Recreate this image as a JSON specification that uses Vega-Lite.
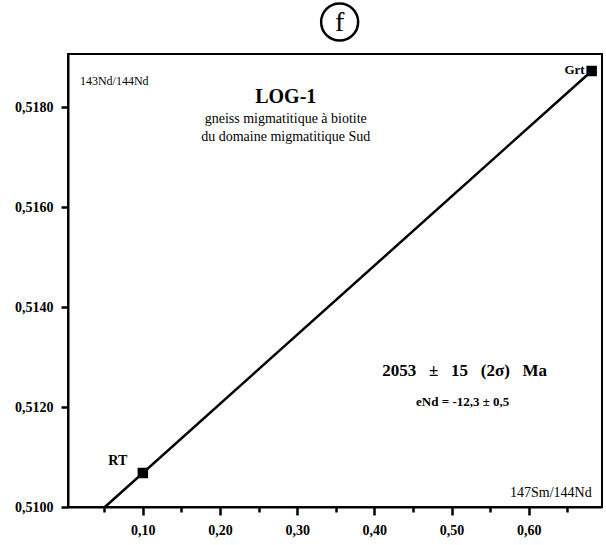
{
  "$schema": "https://vega.github.io/schema/vega-lite/v6.json",
  "width": 534,
  "height": 453,
  "autosize": {"type": "none"},
  "padding": {"left": 68, "top": 54, "right": 4, "bottom": 38},
  "background": "white",
  "config": {
    "view": {"stroke": "black", "strokeWidth": 2},
    "font": "Liberation Serif"
  },
  "encoding": {
    "x": {
      "field": "x", "type": "quantitative",
      "scale": {"domain": [0.003, 0.695], "nice": false, "zero": false},
      "axis": {
        "title": null, "grid": false,
        "values": [0.05, 0.1, 0.15, 0.2, 0.25, 0.3, 0.35, 0.4, 0.45, 0.5, 0.55, 0.6, 0.65],
        "labelExpr": "(round(datum.value*100) % 10 == 0) ? replace(format(datum.value, '.2f'), '.', ',') : ''",
        "tickSize": {"condition": {"test": "round(datum.value*100) % 10 == 0", "value": 8}, "value": 5},
        "tickWidth": 2.5, "tickColor": "black",
        "domainColor": "black", "domainWidth": 2,
        "labelFont": "Liberation Serif", "labelFontWeight": "bold", "labelFontSize": 14,
        "labelColor": "black", "labelPadding": 8
      }
    },
    "y": {
      "field": "y", "type": "quantitative",
      "scale": {"domain": [0.51, 0.51906], "nice": false, "zero": false},
      "axis": {
        "title": null, "grid": false,
        "values": [0.51, 0.512, 0.514, 0.516, 0.518],
        "labelExpr": "replace(format(datum.value, '.4f'), '.', ',')",
        "tickSize": 7, "tickWidth": 2.5, "tickColor": "black",
        "domainColor": "black", "domainWidth": 2,
        "labelFont": "Liberation Serif", "labelFontWeight": "bold", "labelFontSize": 14,
        "labelColor": "black", "labelPadding": 8
      }
    }
  },
  "layer": [
    {
      "data": {"values": [{"x": 0.0508, "y": 0.51}, {"x": 0.6816, "y": 0.51872}]},
      "mark": {"type": "line", "color": "black", "strokeWidth": 2.5}
    },
    {
      "data": {"values": [{"x": 0.1, "y": 0.51068, "sample": "RT"}, {"x": 0.6816, "y": 0.51872, "sample": "Grt"}]},
      "mark": {"type": "point", "shape": "square", "filled": true, "color": "black", "size": 110, "opacity": 1}
    },
    {
      "data": {"values": [{"x": 0.0676, "y": 0.51092, "t": "RT"}]},
      "mark": {"type": "text", "font": "Liberation Serif", "fontWeight": "bold", "fontSize": 14, "color": "black"},
      "encoding": {"text": {"field": "t"}}
    },
    {
      "data": {"values": [{"x": 0.6725, "y": 0.51874, "t": "Grt"}]},
      "mark": {"type": "text", "align": "right", "font": "Liberation Serif", "fontWeight": "bold", "fontSize": 13, "color": "black"},
      "encoding": {"text": {"field": "t"}}
    },
    {
      "data": {"values": [{"x": 0.0184, "y": 0.51852, "t": "143Nd/144Nd"}]},
      "mark": {"type": "text", "align": "left", "font": "Liberation Serif", "fontSize": 12, "color": "black"},
      "encoding": {"text": {"field": "t"}}
    },
    {
      "data": {"values": [{"x": 0.6816, "y": 0.51028, "t": "147Sm/144Nd"}]},
      "mark": {"type": "text", "align": "right", "font": "Liberation Serif", "fontSize": 14, "color": "black"},
      "encoding": {"text": {"field": "t"}}
    },
    {
      "data": {"values": [{"x": 0.2852, "y": 0.5182, "t": "LOG-1"}]},
      "mark": {"type": "text", "font": "Liberation Serif", "fontWeight": "bold", "fontSize": 20, "color": "black"},
      "encoding": {"text": {"field": "t"}}
    },
    {
      "data": {"values": [{"x": 0.2852, "y": 0.51776, "t": "gneiss migmatitique à biotite"}, {"x": 0.2852, "y": 0.5174, "t": "du domaine migmatitique Sud"}]},
      "mark": {"type": "text", "font": "Liberation Serif", "fontSize": 14, "color": "black"},
      "encoding": {"text": {"field": "t"}}
    },
    {
      "data": {"values": [{"x": 0.517, "y": 0.51272, "t": "2053\u00a0\u00a0\u00a0±\u00a0\u00a0\u00a015\u00a0\u00a0\u00a0(2σ)\u00a0\u00a0\u00a0Ma"}]},
      "mark": {"type": "text", "font": "Liberation Serif", "fontWeight": "bold", "fontSize": 17, "color": "black"},
      "encoding": {"text": {"field": "t"}}
    },
    {
      "data": {"values": [{"x": 0.5145, "y": 0.5121, "t": "eNd = -12,3 ± 0,5"}]},
      "mark": {"type": "text", "font": "Liberation Serif", "fontWeight": "bold", "fontSize": 13, "color": "black"},
      "encoding": {"text": {"field": "t"}}
    },
    {
      "data": {"values": [{"x": 0.355, "y": 0.5197, "t": "f"}]},
      "mark": {"type": "point", "shape": "circle", "filled": false, "color": "black", "strokeWidth": 2.5, "size": 1369, "opacity": 1}
    },
    {
      "data": {"values": [{"x": 0.355, "y": 0.5197, "t": "f"}]},
      "mark": {"type": "text", "font": "Liberation Serif", "fontSize": 28, "color": "black", "baseline": "middle", "dy": 1},
      "encoding": {"text": {"field": "t"}}
    }
  ]
}
